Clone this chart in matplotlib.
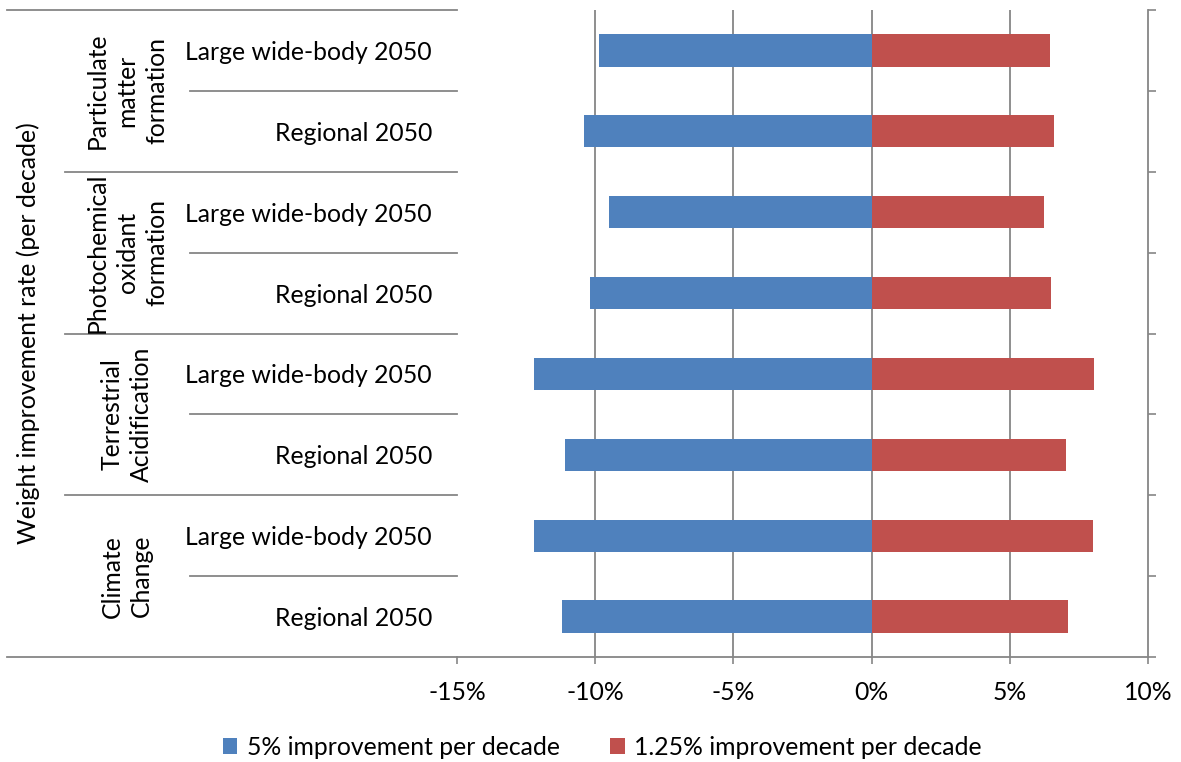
import matplotlib
matplotlib.use("Agg")
import matplotlib.pyplot as plt
from matplotlib.transforms import blended_transform_factory
from matplotlib.ticker import FixedLocator, PercentFormatter

plt.rcParams['font.family'] = ['Lato', 'DejaVu Sans']
plt.rcParams['axes.unicode_minus'] = False

# data (top to bottom)
groups = ['Particulate\nmatter\nformation', 'Photochemical\noxidant\nformation',
          'Terrestrial\nAcidification', 'Climate\nChange']
rows = ['Large wide-body 2050', 'Regional 2050'] * 4
improve_5 = [-9.85, -10.4, -9.5, -10.2, -12.2, -11.1, -12.2, -11.2]
improve_125 = [6.45, 6.6, 6.25, 6.5, 8.05, 7.05, 8.0, 7.1]
xticks = [-15, -10, -5, 0, 5, 10]

blue = '#4F81BD'
red = '#C0504D'
grey = '#868686'
fs = 17.8

fig = plt.figure(figsize=(11.81, 7.62), dpi=100)
ax = fig.add_axes([457 / 1181, 1 - 657 / 762, 691 / 1181, 647 / 762])

pos = list(range(len(rows)))
ax.barh(pos, improve_5, height=0.4, color=blue, label='5% improvement per decade', zorder=3)
ax.barh(pos, improve_125, height=0.4, color=red, label='1.25% improvement per decade', zorder=3)

ax.set_ylim(len(rows) - 0.5, -0.5)
ax.set_xlim(xticks[0], xticks[-1])
ax.set_xticks(xticks)
ax.xaxis.set_major_formatter(PercentFormatter(decimals=0))
ax.tick_params(axis='x', length=5, color=grey, width=1.2, labelsize=fs, pad=12)

ax.set_yticks(pos)
ax.set_yticklabels(rows, fontsize=fs)
ax.tick_params(axis='y', which='major', length=0, pad=18)
bounds = [p - 0.5 for p in pos] + [len(rows) - 0.5]
ax.yaxis.set_minor_locator(FixedLocator(bounds))
ax.tick_params(axis='y', which='minor', left=False, right=True, length=6, color=grey, width=1.2)

for v in xticks[1:-1]:
    ax.axvline(v, color=grey, lw=1.3, zorder=1)

for s in ['top', 'left']:
    ax.spines[s].set_visible(False)
for s in ['bottom', 'right']:
    ax.spines[s].set_color(grey)
    ax.spines[s].set_linewidth(1.3)

# category table on the left
tr = blended_transform_factory(ax.transAxes, ax.transData)
x_out = (7 - 457) / 691
x_grp = (65 - 457) / 691
x_sub = (190 - 457) / 691
ax.plot([x_out, 0], [-0.5, -0.5], transform=tr, color=grey, lw=1.3, clip_on=False)
ax.plot([x_out, 0], [len(rows) - 0.5] * 2, transform=tr, color=grey, lw=1.3, clip_on=False)
for i, g in enumerate(groups):
    if i > 0:
        ax.plot([x_grp, 0], [2 * i - 0.5] * 2, transform=tr, color=grey, lw=1.3, clip_on=False)
    ax.plot([x_sub, 0], [2 * i + 0.5] * 2, transform=tr, color=grey, lw=1.3, clip_on=False)
    ax.text((127 - 457) / 691, 2 * i + 0.5, g, transform=tr, rotation=90, ha='center',
            va='center', fontsize=fs, multialignment='center', linespacing=1.35)

fig.text(28 / 1181, 1 - 333 / 762, 'Weight improvement rate (per decade)', rotation=90,
         ha='center', va='center', fontsize=fs)

fig.legend(loc='lower center', bbox_to_anchor=(0.51, -0.025), ncol=2, frameon=False,
           fontsize=fs, handlelength=0.6, handleheight=0.6, columnspacing=2.0,
           handletextpad=0.4)

fig.savefig('out.png', dpi=100)
